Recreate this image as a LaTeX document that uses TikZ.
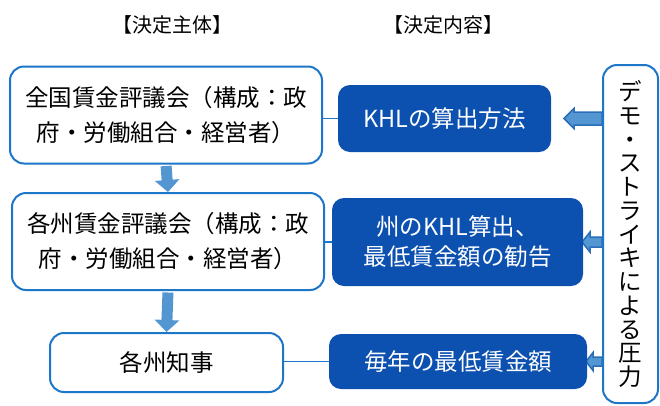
\documentclass[tikz,border=0pt]{standalone}
\usepackage{fontspec}
\setmainfont{Noto Sans CJK JP}
\usetikzlibrary{calc,arrows.meta,backgrounds}
\definecolor{bord}{RGB}{30,118,200}
\definecolor{dark}{RGB}{12,80,176}
\definecolor{afill}{RGB}{84,150,210}
\definecolor{aline}{RGB}{40,110,185}
\newcommand{\myvtfont}{\fontsize{23.5}{23.75}\selectfont\lineskiplimit=-20pt\relax}
\begin{document}
\begin{tikzpicture}[x=1pt,y=-1pt,
  wbox/.style={draw=bord, line width=2pt, rounded corners=14pt, fill=white, align=center, inner sep=0pt, font=\fontsize{23.5}{35}\selectfont},
  bbox/.style={fill=dark, rounded corners=12pt, text=white, align=center, inner sep=0pt, font=\fontsize{23.5}{30}\selectfont},
  hdr/.style={font=\fontsize{20}{24}\selectfont, inner sep=0pt},
  conn/.style={draw=bord, line width=1.5pt},
  darrow/.style={draw=afill, line width=11pt, shorten <=1.5pt, -{Triangle[width=24pt,length=12pt]}},
  larrow/.style={fill=afill, draw=aline, line width=1.5pt, line join=miter}]
\useasboundingbox (0,0) rectangle (660,405);

\node[hdr] (h1) at (172,25) {【決定主体】};
\node[hdr] (h2) at (443,25) {【決定内容】};

\node[wbox, minimum width=312pt, minimum height=97pt] (b1) at (166,115) {全国賃金評議会（構成：政\\府・労働組合・経営者）};
\node[wbox, minimum width=312pt, minimum height=97pt] (b2) at (168,241.5) {各州賃金評議会（構成：政\\府・労働組合・経営者）};
\node[wbox, minimum width=233pt, minimum height=59pt] (b3) at (166.5,362.5) {各州知事};

\node[bbox, minimum width=213pt, minimum height=67pt] (d1) at (444.5,118.5) {KHLの算出方法};
\node[bbox, minimum width=251pt, minimum height=88pt] (d2) at (457.5,242) {州のKHL算出、\\最低賃金額の勧告};
\node[bbox, minimum width=258pt, minimum height=55pt] (d3) at (458,361.5) {毎年の最低賃金額};

\node[wbox, minimum width=55pt, minimum height=338pt, font=\myvtfont] (r) at (630.5,234) {デ\\モ\\・\\ス\\ト\\ラ\\イ\\キ\\に\\よ\\る\\圧\\力};

\begin{pgfonlayer}{background}
\fill[white] (0,0) rectangle (660,405);
\draw[darrow] (b1.south) -- (b2.north);
\draw[darrow] (b2.south) -- (b3.north);
\draw[conn] (d1.west -| b1.east) -- (d1.west);
\draw[conn] (d2.west -| b2.east) -- (d2.west);
\draw[conn] (d3.west -| b3.east) -- (d3.west);
\draw[larrow] ($(r.west |- d1.east)+(0,-6.5)$) -- ++(-28,0) -- ++(0,-3.5) -- ++(-10,10) -- ++(10,10) -- ++(0,-3.5) -- ++(28,0) -- cycle;
\draw[larrow] ($(r.west |- d2.east)+(0,-5)$) -- ++(-12,0) -- ++(0,-5) -- ++(-8,10) -- ++(8,10) -- ++(0,-5) -- ++(12,0) -- cycle;
\draw[larrow] ($(r.west |- d3.east)+(0,-4.5)$) -- ++(-9,0) -- ++(0,-4.5) -- ++(-7,9) -- ++(7,9) -- ++(0,-4.5) -- ++(9,0) -- cycle;
\end{pgfonlayer}
\end{tikzpicture}
\end{document}
